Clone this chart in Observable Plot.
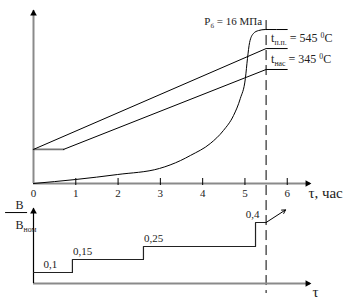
<!DOCTYPE html>
<html><head><meta charset="utf-8">
<script src="https://cdn.jsdelivr.net/npm/d3@7"></script>
<script src="https://cdn.jsdelivr.net/npm/@observablehq/plot@0.6"></script>
<style>
body{margin:0;background:#fff;}
#chart{position:relative;width:361px;height:303px;}
#chart svg{position:absolute;left:0;overflow:visible;background:transparent !important;}
#chart svg text, #chart svg tspan{font-family:"Liberation Serif","DejaVu Serif",serif !important;}
</style></head><body><div id="chart"></div>
<script>
// ---- data ----
const hours = [0, 1, 2, 3, 4, 5, 6];
const tickHours = [1, 2, 3, 4, 5, 6];
const pressureTau = [0, 0.99, 1.99, 2.98, 3.48, 3.71, 4.18, 4.49, 4.73, 4.89, 5.01, 5.06, 5.11, 5.20, 5.32, 5.48, 6.0];
const pressureVal = [0, 2.3, 5.2, 8.7, 13.3, 16.2, 23.1, 30.6, 39.3, 49.1, 60.7, 72.3, 81.5, 86.7, 88.4, 89.0, 89.0];
const steamTau = [0, 5.5, 6.0];
const steamVal = [19.7, 78, 78];
const satTau = [0, 0.71, 5.5, 6.0];
const satVal = [19.7, 19.7, 65.9, 65.9];
const startupEnd = 5.5;
const pLabel = "P_{б} = 16 МПа";
const tLabels = ["t_{п.п.} = 545 ^{0}C", "t_{нас} = 345 ^{0}C"];
const xTitle = "τ, час";
const flowTau = [0, 0.92, 2.6, 5.25, 5.5];
const flowVal = [0.1, 0.15, 0.25, 0.4, 0.4];
const flowLabels = ["0,1", "0,15", "0,25", "0,4"];
const flowLabelTau = [0.40, 1.16, 2.84, 5.18];
const flowLabelVal = [0.1, 0.15, 0.25, 0.4];
const trendArrow = [{x1: 5.5, y1: 0.4, x2: 5.96, y2: 0.49}];
const yTitleTop = "B";
const yTitleBottom = "B_{ном}";
const bottomTitle = "τ";
// schematic (non-proportional) vertical placement of the relative-flow levels
const flowLevelDomain = [0, 0.1, 0.15, 0.25, 0.4, 0.5];
const flowLevelHeight = [0, 11, 24, 37, 61, 75];

const xMax = 6.55;
const W = 361;
const axisGray = "#8a8a8a";
const serif = "Liberation Serif";
const lvl = d3.scaleLinear().domain(flowLevelDomain).range(flowLevelHeight);

function richify(svg) {
  svg.querySelectorAll("text").forEach(t => {
    const s = t.textContent;
    if (!/[_^]\{/.test(s)) return;
    t.textContent = "";
    const parts = s.split(/(_\{[^}]*\}|\^\{[^}]*\})/).filter(p => p !== "");
    let shift = 0;
    const ns = "http://www.w3.org/2000/svg";
    parts.forEach(p => {
      const ts = document.createElementNS(ns, "tspan");
      let target = 0, txt = p, small = false;
      if (p.startsWith("_{")) { target = 3; txt = p.slice(2, -1); small = true; }
      else if (p.startsWith("^{")) { target = -4; txt = p.slice(2, -1); small = true; }
      ts.setAttribute("dy", String(target - shift));
      shift = target;
      if (small) ts.setAttribute("font-size", "65%");
      ts.textContent = txt;
      t.appendChild(ts);
    });
  });
}

const pressure = pressureTau.map((x, i) => ({x, y: pressureVal[i]}));
const steam = steamTau.map((x, i) => ({x, y: steamVal[i]}));
const sat = satTau.map((x, i) => ({x, y: satVal[i]}));
const T = (o) => Object.assign({fontFamily: serif, fill: "#222"}, o);

const topPlot = Plot.plot({
  width: W, height: 200,
  marginLeft: 33, marginRight: W - 310, marginTop: 10, marginBottom: 17,
  x: {domain: [0, xMax], axis: null},
  y: {domain: [0, 100], axis: null},
  style: "overflow: visible; background: transparent; font-size: 11px;",
  marks: [
    Plot.ruleY([0], {x1: 0, x2: xMax, stroke: axisGray, strokeWidth: 2}),
    Plot.ruleX([0], {y1: 0, y2: 100, stroke: axisGray, strokeWidth: 2}),
    Plot.dot([0], {x: xMax, y: 0, symbol: "triangle", r: 2.5, fill: "black", stroke: "none", rotate: 90, dx: -3}),
    Plot.dot([0], {x: 0, y: 100, symbol: "triangle", r: 2.5, fill: "black", stroke: "none", dy: 3}),
    Plot.ruleX(tickHours, {x: d => d, y1: 0, y2: 0, insetTop: -5, insetBottom: -2, stroke: "black", strokeWidth: 1}),
    Plot.text(hours, T({x: d => d, y: 0, dy: 10, text: d => String(d), fontSize: 11})),
    Plot.text([xTitle], T({x: 6.5, y: 0, dy: 10, textAnchor: "start", fontSize: 15})),
    Plot.ruleX([startupEnd], {y1: 94.2, y2: -63.6, stroke: "black", strokeWidth: 1, strokeDasharray: "10,5"}),
    Plot.line(sat.slice(0, 2), {x: "x", y: "y", stroke: "#777", strokeWidth: 1.8}),
    Plot.line(sat.slice(1), {x: "x", y: "y", stroke: "black", strokeWidth: 1}),
    Plot.line(steam, {x: "x", y: "y", stroke: "black", strokeWidth: 1}),
    Plot.line(pressure, {x: "x", y: "y", curve: "monotone-x", stroke: "black", strokeWidth: 1}),
    Plot.text([pLabel], T({x: startupEnd, y: 93.6, dx: -4, textAnchor: "end", fontSize: 11})),
    Plot.text(tLabels, T({x: startupEnd, y: (d, i) => [steamVal[1], satVal[2]][i], dx: 5, dy: -10, textAnchor: "start", fontSize: 12}))
  ]
});

const bottomPlot = Plot.plot({
  width: W, height: 103,
  marginLeft: 33, marginRight: W - 310, marginTop: 8, marginBottom: 20,
  x: {domain: [0, xMax], axis: null},
  y: {domain: [0, 75], axis: null},
  style: "overflow: visible; background: transparent; font-size: 11px;",
  marks: [
    Plot.ruleY([0], {x1: 0, x2: xMax, stroke: axisGray, strokeWidth: 2}),
    Plot.ruleX([0], {y1: 0, y2: lvl(0.5), stroke: "black", strokeWidth: 1.2}),
    Plot.dot([0], {x: xMax, y: 0, symbol: "triangle", r: 2.5, fill: "black", stroke: "none", rotate: 90, dx: -3}),
    Plot.dot([0], {x: 0, y: lvl(0.5), symbol: "triangle", r: 2.5, fill: "black", stroke: "none", dy: 3}),
    Plot.line(flowTau.map((x, i) => ({x, y: lvl(flowVal[i])})), {x: "x", y: "y", curve: "step-after", stroke: "#222", strokeWidth: 1.2}),
    Plot.arrow(trendArrow, {x1: "x1", y1: d => lvl(d.y1), x2: "x2", y2: d => lvl(d.y2), stroke: "black", strokeWidth: 1, headLength: 6}),
    Plot.text(flowLabels, T({x: (d, i) => flowLabelTau[i], y: (d, i) => lvl(flowLabelVal[i]), dy: -8, fontSize: 11})),
    Plot.text([bottomTitle], T({x: xMax, y: 0, dx: 5, dy: 9, fontSize: 15})),
    Plot.text([yTitleTop], T({frameAnchor: "top-left", dx: -18, dy: -8, fontSize: 12})),
    Plot.text([yTitleBottom], T({frameAnchor: "top-left", dx: -18, dy: 12, fontSize: 12})),
    Plot.ruleY([lvl(0.471)], {x1: -0.66, x2: -0.14, stroke: "black", strokeWidth: 1})
  ]
});

richify(topPlot); richify(bottomPlot);
topPlot.style.top = "0px";
bottomPlot.style.top = "200px";
const c = document.getElementById("chart");
c.appendChild(topPlot);
c.appendChild(bottomPlot);
</script></body></html>
